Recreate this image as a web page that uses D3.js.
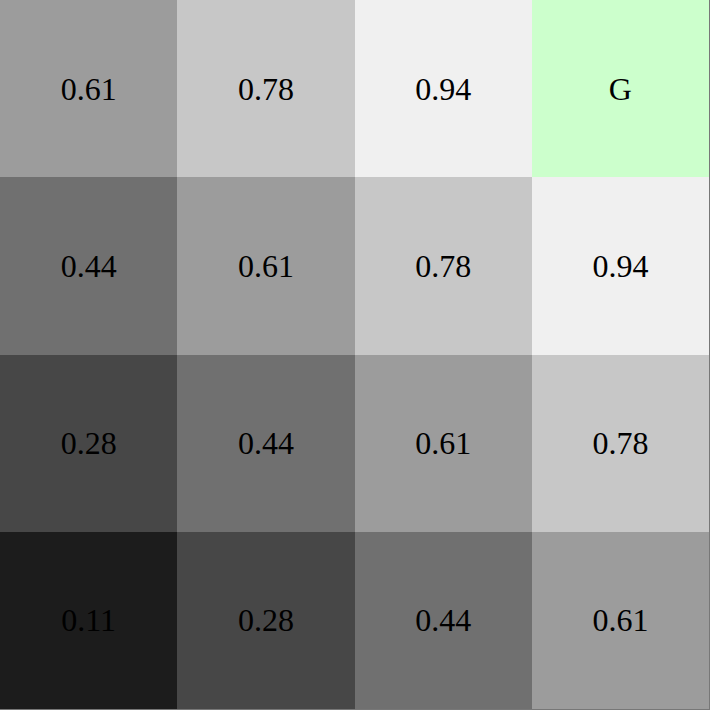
<!DOCTYPE html>
<html><head><meta charset="utf-8">
<script src="https://cdn.jsdelivr.net/npm/d3@7"></script>
<style>html,body{margin:0;padding:0;background:#fff;}svg{display:block;}</style>
</head><body>
<script>
const rowLabels = ["r0","r1","r2","r3"];
const colLabels = ["c0","c1","c2","c3"];
const cellValues = [
  [0.61, 0.78, 0.94, null],
  [0.44, 0.61, 0.78, 0.94],
  [0.28, 0.44, 0.61, 0.78],
  [0.11, 0.28, 0.44, 0.61]
];
const cellTexts = [
  ["0.61","0.78","0.94","G"],
  ["0.44","0.61","0.78","0.94"],
  ["0.28","0.44","0.61","0.78"],
  ["0.11","0.28","0.44","0.61"]
];
const goalColor = "#ccffcc";

const W = 710, H = 710, gridSize = 709;
const svg = d3.select("body").append("svg").attr("width", W).attr("height", H);
const x = d3.scaleBand().domain(colLabels).range([0, gridSize]);
const y = d3.scaleBand().domain(rowLabels).range([0, gridSize]);
const grey = v => { const g = Math.round(v * 255); return d3.rgb(g, g, g).toString(); };

const cells = [];
cellValues.forEach((row, i) => row.forEach((v, j) => cells.push({r: rowLabels[i], c: colLabels[j], v, t: cellTexts[i][j]})));

svg.selectAll("rect.cell").data(cells).join("rect").attr("class","cell")
  .attr("x", d => Math.round(x(d.c))).attr("y", d => Math.round(y(d.r)))
  .attr("width", d => Math.round(x(d.c) + x.bandwidth()) - Math.round(x(d.c)))
  .attr("height", d => Math.round(y(d.r) + y.bandwidth()) - Math.round(y(d.r)))
  .attr("shape-rendering","crispEdges")
  .attr("fill", d => d.v === null ? goalColor : grey(d.v));

svg.selectAll("text.lbl").data(cells).join("text").attr("class","lbl")
  .attr("x", d => x(d.c) + x.bandwidth()/2)
  .attr("y", d => y(d.r) + y.bandwidth()/2)
  .attr("text-anchor","middle").attr("dominant-baseline","central")
  .attr("font-family","'Liberation Serif', 'DejaVu Serif', serif")
  .attr("font-size", 32).attr("fill","#000")
  .text(d => d.t);

svg.append("line").attr("x1", gridSize + 0.5).attr("x2", gridSize + 0.5).attr("y1", 0).attr("y2", gridSize + 1)
  .attr("stroke","#777").attr("stroke-width",1).attr("shape-rendering","crispEdges");
svg.append("line").attr("y1", gridSize + 0.5).attr("y2", gridSize + 0.5).attr("x1", 0).attr("x2", gridSize + 1)
  .attr("stroke","#777").attr("stroke-width",1).attr("shape-rendering","crispEdges");
</script>
</body></html>
